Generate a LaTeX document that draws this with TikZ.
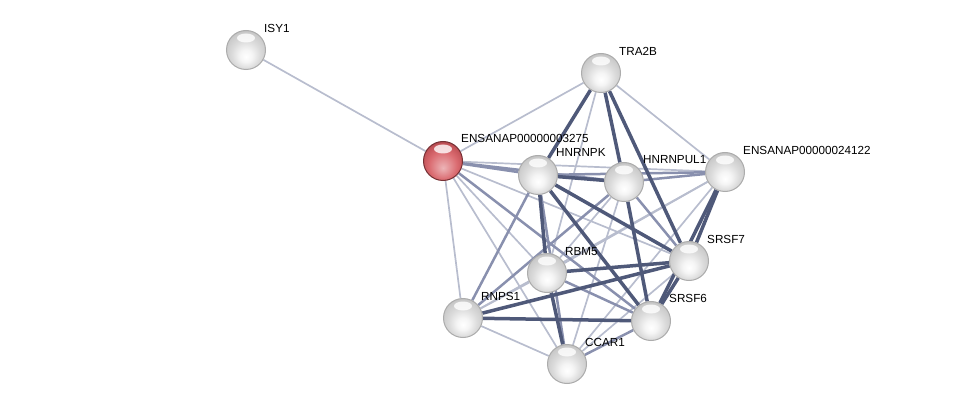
\documentclass[tikz,border=0pt]{standalone}
\usepackage{fontspec}
\setmainfont{Liberation Sans}
\usepackage{tikz}
\usetikzlibrary{backgrounds,calc}
\definecolor{edgelo}{HTML}{B8BDCE}
\definecolor{edgemid}{HTML}{8990AE}
\definecolor{edgehi}{HTML}{4F5979}
\definecolor{queryc}{HTML}{D65A60}
\pgfdeclareradialshading{protball}{\pgfpoint{0bp}{-9bp}}{color(0bp)=(white); color(8bp)=(gray!8); color(18bp)=(gray!28); color(27bp)=(gray!42); color(34bp)=(gray!62); color(50bp)=(gray!62)}
\pgfdeclareradialshading{queryball}{\pgfpoint{0bp}{-9bp}}{color(0bp)=(queryc!45!white); color(8bp)=(queryc!65!white); color(18bp)=(queryc!90!white); color(27bp)=(queryc!90!black); color(34bp)=(queryc!60!black); color(50bp)=(queryc!60!black)}
\tikzset{
  shine/.style={path picture={\fill[white,opacity=.8] ($(path picture bounding box.center)+(0,-12)$) ellipse (9 and 4.5);}},
  prot/.style={circle,minimum size=39pt,inner sep=0pt,draw=gray!65,line width=1pt,shading=protball,shine},
  query/.style={prot,draw=queryc!55!black,shading=queryball},
  lab/.style={anchor=west,inner sep=0pt,font=\fontsize{11.7}{13}\selectfont},
  elo/.style={edgelo,line width=1.7pt},
  emid/.style={edgemid,line width=2.5pt},
  ehi/.style={edgehi,line width=3.5pt}
}

\begin{document}
\begin{tikzpicture}[x=1pt,y=-1pt]
\useasboundingbox (0,0) rectangle (975,409);
% proteins
\node[prot] (isy) at (246,50) {};
\node[prot] (tra) at (601,73) {};
\node[query] (q) at (443,161) {};
\node[prot] (k) at (538,175) {};
\node[prot] (hul) at (624,182) {};
\node[prot] (ens) at (725,172) {};
\node[prot] (sr7) at (689,261) {};
\node[prot] (rbm) at (547,273) {};
\node[prot] (rnps) at (463,318) {};
\node[prot] (sr6) at (651,321) {};
\node[prot] (ccar) at (567,364) {};
% labels
\node[lab] at ($(isy)+(18,-22)$) {ISY1};
\node[lab] at ($(tra)+(18,-22)$) {TRA2B};
\node[lab] at ($(q)+(18,-23)$) {ENSANAP00000003275};
\node[lab] at ($(k)+(18,-23)$) {HNRNPK};
\node[lab] at ($(hul)+(19,-22)$) {HNRNPUL1};
\node[lab] at ($(ens)+(18,-22)$) {ENSANAP00000024122};
\node[lab] at ($(sr7)+(18,-22)$) {SRSF7};
\node[lab] at ($(rbm)+(18,-21)$) {RBM5};
\node[lab] at ($(rnps)+(18,-22)$) {RNPS1};
\node[lab] at ($(sr6)+(18,-23)$) {SRSF6};
\node[lab] at ($(ccar)+(18,-22)$) {CCAR1};
% interactions
\begin{scope}[on background layer]
\foreach \a/\b in {isy/q,tra/q,tra/ens,q/ens,q/rnps,tra/rbm,q/ccar,q/rbm,q/sr7,hul/rbm,hul/ccar,ens/rbm,ens/ccar,sr7/ccar,rnps/ccar,rnps/rbm,ens/rnps}
  \draw[elo] (\a) -- (\b);
\foreach \a/\b in {q/k,q/hul,q/sr6,k/ens,k/rnps,hul/ens,hul/rnps,hul/sr7,rbm/sr6,k/ccar,sr6/ccar}
  \draw[emid] (\a) -- (\b);
\foreach \a/\b in {tra/k,tra/hul,tra/sr7,k/hul,k/rbm,k/sr7,k/sr6,hul/sr6,ens/sr7,ens/sr6,sr7/rbm,sr7/rnps,sr7/sr6,sr6/rnps,rbm/ccar}
  \draw[ehi] (\a) -- (\b);
\end{scope}
\end{tikzpicture}
\end{document}
